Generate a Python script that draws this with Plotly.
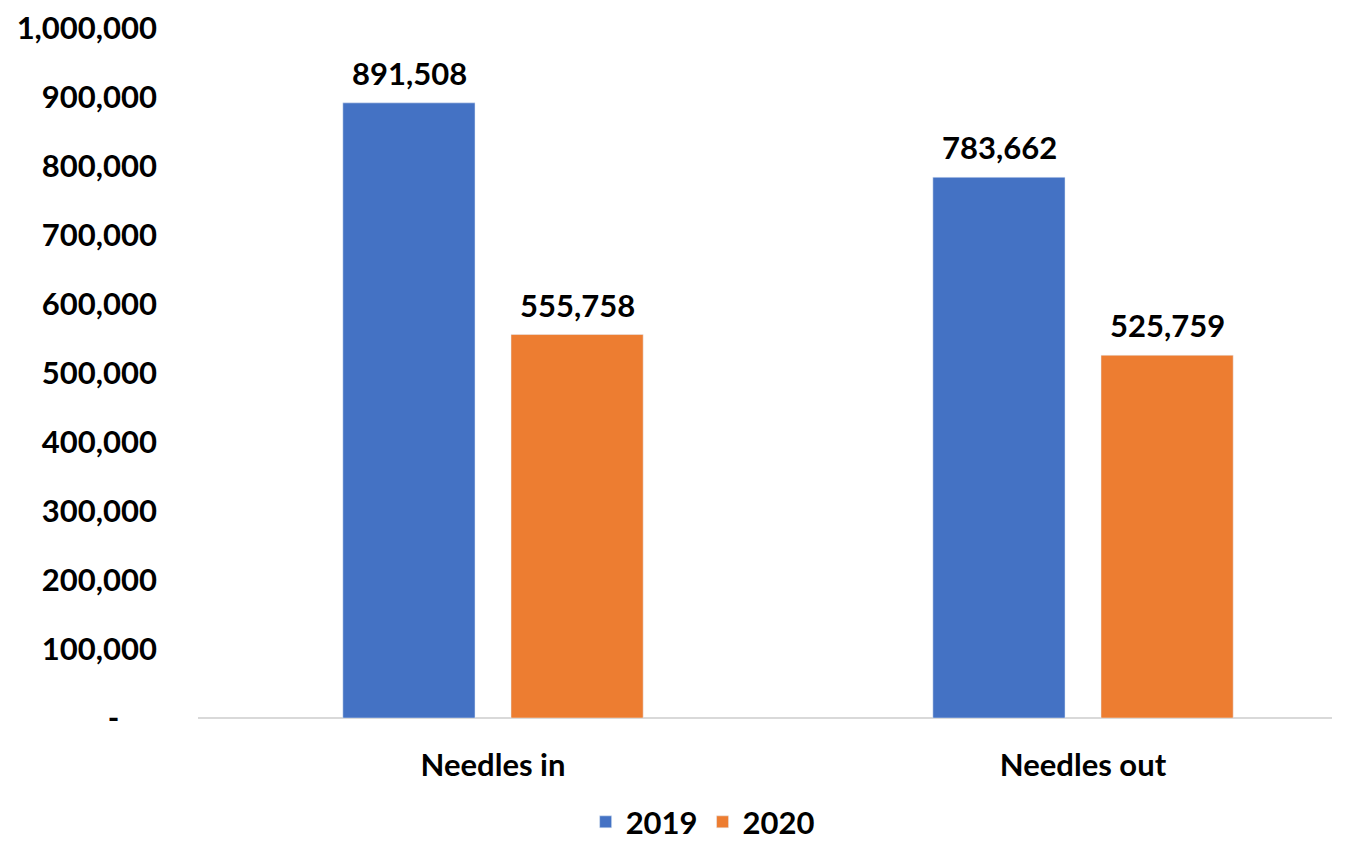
import plotly.graph_objects as go

categories = ['Needles in', 'Needles out']
values_2019 = [891508, 783662]
values_2020 = [555758, 525759]
tick_vals = [0, 100000, 200000, 300000, 400000, 500000, 600000, 700000, 800000, 900000, 1000000]
tick_text = ['-' + '\u00a0' * 5] + [f'{v:,}' for v in tick_vals[1:]]

FONT = 'Lato'
SIZE = 31
BLUE = '#4472C4'
ORANGE = '#ED7D31'

fig = go.Figure()
fig.add_trace(go.Bar(x=categories, y=values_2019, name='2019', marker_color=BLUE))
fig.add_trace(go.Bar(x=categories, y=values_2020, name='2020', marker_color=ORANGE))

# value labels above each bar (Excel leaves a wider gap than plotly's outside text)
for vals, shift in [(values_2019, -84), (values_2020, 84)]:
    for cat, v in zip(categories, vals):
        fig.add_annotation(x=cat, y=v, text=f'{v:,}', showarrow=False,
                           xshift=shift, yanchor='bottom', yshift=9,
                           font=dict(family=FONT, size=SIZE, color='#000000', weight='bold'))

# page body adds an 8px offset, margins are set to make up for it
fig.update_layout(
    width=1353, height=842,
    paper_bgcolor='white', plot_bgcolor='white',
    font=dict(family=FONT, size=SIZE, color='#000000', weight='bold'),
    barmode='group', bargap=0.43, bargroupgap=0.214,
    margin=dict(l=190, r=29, t=20, b=132, autoexpand=False),
    showlegend=True,
    legend=dict(orientation='h', x=0.445, xanchor='center', y=-0.151, yanchor='middle',
                font=dict(size=SIZE, weight='bold'), itemwidth=30),
)
fig.update_xaxes(range=[-0.5, 1.422], showline=False, showgrid=False, ticks='',
                 tickfont=dict(size=SIZE, weight='bold'), ticklabelstandoff=26,
                 automargin=False)
fig.update_yaxes(range=[0, 1000000], tickvals=tick_vals, ticktext=tick_text,
                 showgrid=False, zeroline=True, zerolinecolor='#D9D9D9', zerolinewidth=2,
                 tickfont=dict(size=SIZE, weight='bold'), ticklabelstandoff=40,
                 ticklabeloverflow='allow', automargin=False)

fig.write_html('out.html')
